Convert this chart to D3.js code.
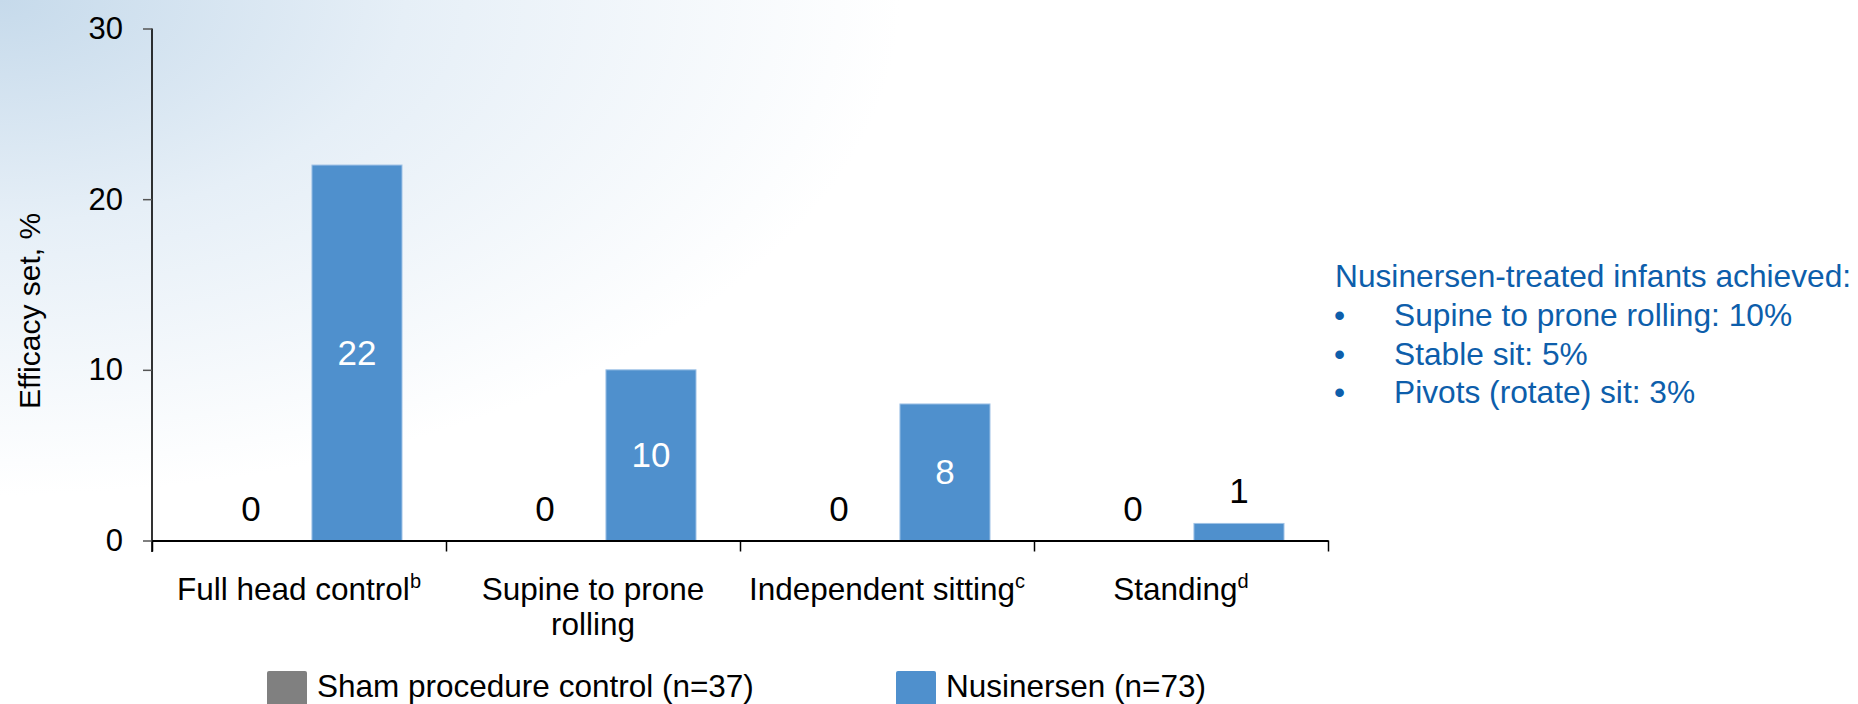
<!DOCTYPE html>
<html>
<head>
<meta charset="utf-8">
<script src="https://cdnjs.cloudflare.com/ajax/libs/d3/7.8.5/d3.min.js"></script>
<style>
body{margin:0;background:#fff;}
svg{display:block;font-family:Arial,"Liberation Sans",sans-serif;}
</style>
</head>
<body>
<script>
var categories=["Full head control","Supine to prone rolling","Independent sitting","Standing"];
var labelLines=[["Full head control"],["Supine to prone","rolling"],["Independent sitting"],["Standing"]];
var footnotes=["b","","c","d"];
var series=["Sham procedure control (n=37)","Nusinersen (n=73)"];
var shamValues=[0,0,0,0];
var nusValues=[22,10,8,1];
var yTicks=[0,10,20,30];
var noteTitle="Nusinersen-treated infants achieved:";
var noteItems=["Supine to prone rolling: 10%","Stable sit: 5%","Pivots (rotate) sit: 3%"];

var width=1858,height=704;
var colors=["#808080","#4f90cd"];
var svg=d3.select("body").append("svg")
    .attr("width",width)
    .attr("height",height);

// background wash in top-left corner
var defs=svg.append("defs");
var grad=defs.append("radialGradient")
    .attr("id","bg")
    .attr("gradientUnits","userSpaceOnUse")
    .attr("cx",0).attr("cy",0).attr("r",900)
    .attr("gradientTransform","scale(1,0.55)");
grad.append("stop").attr("offset","0%").attr("stop-color","#c6daeb");
grad.append("stop").attr("offset","45%").attr("stop-color","#e6eff7");
grad.append("stop").attr("offset","100%").attr("stop-color","#ffffff");
svg.append("rect").attr("width",width).attr("height",height).attr("fill","url(#bg)");

var x0=d3.scaleBand().domain(categories).range([152,1328]);
var x1=d3.scaleBand().domain(series).range([54,250]).paddingInner(0.15);
var xEdge=d3.scaleLinear().domain([0,categories.length]).range([152,1328]);
var y=d3.scaleLinear().domain([0,30]).range([540.5,28.5]);

var data=categories.map(function(c,i){
    return {cat:c,values:[shamValues[i],nusValues[i]]};
});

// bars
var groups=svg.selectAll("g.cat")
    .data(data)
    .enter()
    .append("g")
    .attr("class","cat")
    .attr("transform",function(d){return "translate("+x0(d.cat)+",0)";});

groups.selectAll("rect")
    .data(function(d){return d.values.map(function(v,j){return {s:series[j],v:v,j:j};});})
    .enter()
    .append("rect")
    .attr("x",function(d){return x1(d.s);})
    .attr("y",function(d){return y(d.v);})
    .attr("width",x1.bandwidth())
    .attr("height",function(d){return y(0)-y(d.v);})
    .attr("fill",function(d){return colors[d.j];})
    .attr("stroke",function(d){return d.v>0?"#9fc2e6":"none";})
    .attr("stroke-width",1);

// data labels: inside (white) when the bar is tall enough, else above (black)
function small(d){return (y(0)-y(d.v))<45;}
groups.selectAll("text.val")
    .data(function(d){return d.values.map(function(v,j){return {s:series[j],v:v,j:j};});})
    .enter()
    .append("text")
    .attr("class","val")
    .attr("text-anchor","middle")
    .attr("font-size","35px")
    .attr("x",function(d){return x1(d.s)+x1.bandwidth()/2;})
    .attr("y",function(d){
        if(small(d)) return y(d.v)-20;
        return (y(d.v)+y(0))/2;
    })
    .attr("dy",function(d){return small(d)?"0":"0.35em";})
    .attr("fill",function(d){return small(d)?"#000":"#fff";})
    .text(function(d){return d.v;});

// y axis
var yAxis=svg.append("g")
    .attr("transform","translate(152,0)")
    .call(d3.axisLeft(y).tickValues(yTicks).tickSize(9).tickPadding(20).tickSizeOuter(0));
yAxis.select(".domain").attr("stroke","#000").attr("stroke-width",1.6).attr("d","M0,28.5V552");
yAxis.selectAll(".tick line").attr("stroke","#555").attr("stroke-width",1.5);
yAxis.selectAll(".tick text").attr("font-size","31px").attr("fill","#000").attr("font-family","Arial,'Liberation Sans',sans-serif");

// x axis with ticks at band edges
var xAxis=svg.append("g")
    .attr("transform","translate(0,"+y(0)+")")
    .call(d3.axisBottom(xEdge).tickValues(d3.range(categories.length+1)).tickSize(11).tickFormat("").tickSizeOuter(0));
xAxis.select(".domain").attr("stroke","#000").attr("stroke-width",2.2);
xAxis.selectAll(".tick line").attr("stroke","#000").attr("stroke-width",1.5);

// category labels
var catLabels=svg.selectAll("text.cat")
    .data(categories)
    .enter()
    .append("text")
    .attr("class","cat")
    .attr("text-anchor","middle")
    .attr("font-size","31.5px")
    .attr("fill","#000")
    .attr("x",function(d){return x0(d)+x0.bandwidth()/2;})
    .attr("y",600);
catLabels.each(function(d,i){
    var t=d3.select(this);
    labelLines[i].forEach(function(line,k){
        t.append("tspan")
            .attr("x",x0(d)+x0.bandwidth()/2)
            .attr("dy",k===0?0:35)
            .text(line);
        if(k===labelLines[i].length-1&&footnotes[i]){
            t.append("tspan")
                .attr("font-size","20px")
                .attr("dy",-12)
                .text(footnotes[i]);
        }
    });
});

// y axis title
svg.append("text")
    .attr("transform","translate(40,311) rotate(-90)")
    .attr("text-anchor","middle")
    .attr("font-size","30px")
    .attr("fill","#000")
    .text("Efficacy set, %");

// legend
var legendX=[267,896];
var legend=svg.selectAll("g.legend")
    .data(series)
    .enter()
    .append("g")
    .attr("class","legend")
    .attr("transform",function(d,i){return "translate("+legendX[i]+",671)";});
legend.append("rect")
    .attr("width",40)
    .attr("height",40)
    .attr("rx",2)
    .attr("fill",function(d,i){return colors[i];});
legend.append("text")
    .attr("x",50)
    .attr("y",26)
    .attr("font-size","31.5px")
    .attr("fill","#000")
    .text(function(d){return d;});

// side note
var noteColor="#0d5eab";
svg.append("text")
    .attr("x",1335)
    .attr("y",287)
    .attr("font-size","31.7px")
    .attr("fill",noteColor)
    .text(noteTitle);
var items=svg.selectAll("g.note")
    .data(noteItems)
    .enter()
    .append("g")
    .attr("class","note")
    .attr("transform",function(d,i){return "translate(0,"+(326+i*38.5)+")";});
items.append("text")
    .attr("x",1334)
    .attr("font-size","31.7px")
    .attr("fill",noteColor)
    .text("\u2022");
items.append("text")
    .attr("x",1394)
    .attr("font-size","31.7px")
    .attr("fill",noteColor)
    .text(function(d){return d;});
</script>
</body>
</html>
